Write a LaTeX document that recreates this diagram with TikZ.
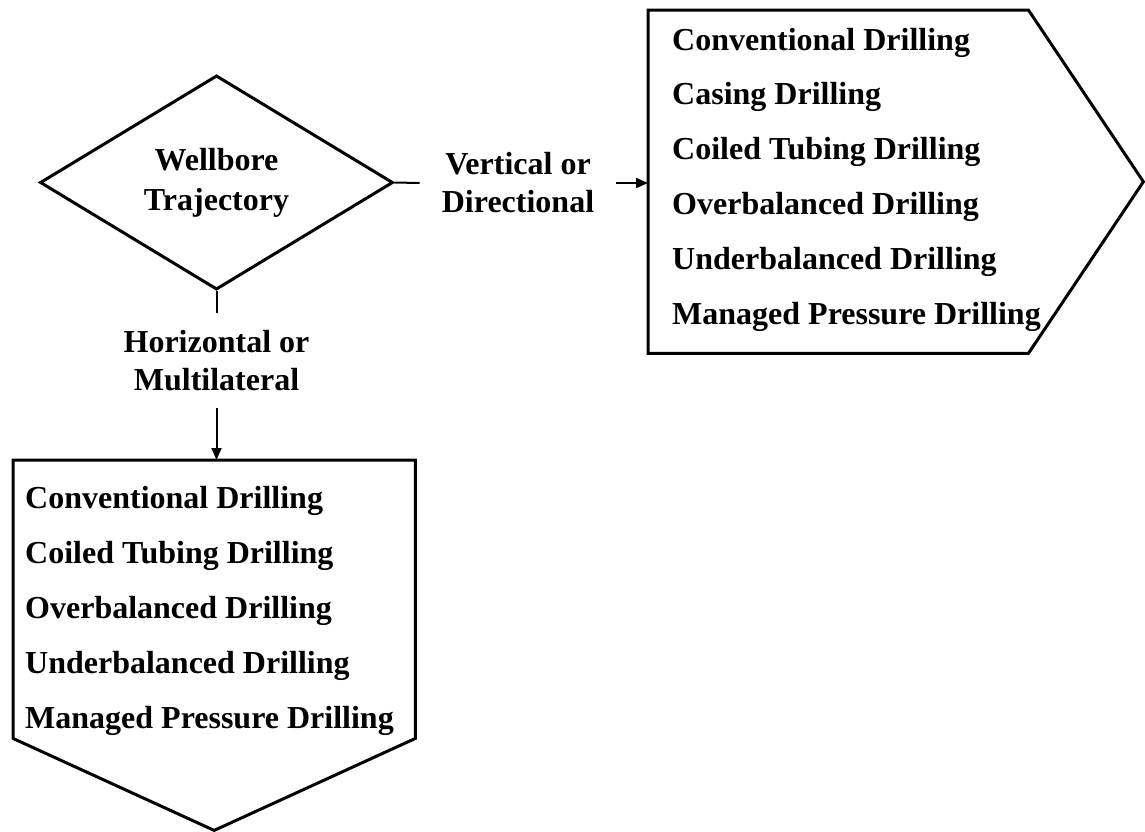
\documentclass[tikz,border=0pt]{standalone}
\usepackage{fontspec}
\setmainfont{Liberation Serif}
\usetikzlibrary{arrows.meta, positioning, shapes.geometric}

\begin{document}
\begin{tikzpicture}[x=1pt, y=-1pt,
    txt/.style={font=\bfseries\fontsize{32}{38}\selectfont},
    lbl/.style={txt, align=center, inner xsep=22pt, inner ysep=17pt},
    item/.style={txt, anchor=base west, inner sep=0pt},
    box/.style={inner sep=0pt, anchor=north west},
    outline/.style={line width=3pt, line join=miter},
    link/.style={line width=2pt},
    arrow/.style={line width=2pt, -{Triangle[length=12pt, width=10pt]}}]
  \useasboundingbox (0,0) rectangle (1145,831);

  % decision
  \node (traj) [diamond, draw, outline, inner sep=0pt, minimum width=353pt, minimum height=181pt,
    align=center, font=\bfseries\fontsize{32}{40}\selectfont] at (216.5,182.5) {Wellbore\\Trajectory};

  % branch labels
  \node (vlabel) [lbl] at (518,183) {Vertical or\\Directional};
  \node (hlabel) [lbl] at (216.5,360.5) {Horizontal or\\Multilateral};

  % result boxes
  \node (vbox) [box, minimum width=380pt, minimum height=343pt] at (648,10) {};
  \node (hbox) [box, minimum width=402pt, minimum height=278pt] at (13,460) {};
  \coordinate (vtip) at ([xshift=115pt]vbox.east);
  \coordinate (htip) at ([yshift=-92pt]hbox.south);
  \draw[outline] (vbox.north east) -- (vbox.north west) -- (vbox.south west) -- (vbox.south east) -- (vtip) -- cycle;
  \draw[outline] (hbox.south west) -- (hbox.north west) -- (hbox.north east) -- (hbox.south east) -- (htip) -- cycle;

  \foreach \txt [count=\i] in {Conventional Drilling, Casing Drilling, Coiled Tubing Drilling,
      Overbalanced Drilling, Underbalanced Drilling, Managed Pressure Drilling}
    \node (v\i) [item] at (672,{50+54.8*(\i-1)}) {\txt};
  \foreach \txt [count=\i] in {Conventional Drilling, Coiled Tubing Drilling,
      Overbalanced Drilling, Underbalanced Drilling, Managed Pressure Drilling}
    \node (h\i) [item] at (25,{508+55*(\i-1)}) {\txt};

  % connectors
  \draw[link] (traj.east) -- (vlabel.west);
  \draw[arrow] (vlabel.east) -- (vlabel.east -| vbox.west);
  \draw[link] (traj.south) -- (hlabel.north);
  \draw[arrow] (hlabel.south) -- (hlabel.south |- hbox.north);
\end{tikzpicture}
\end{document}
